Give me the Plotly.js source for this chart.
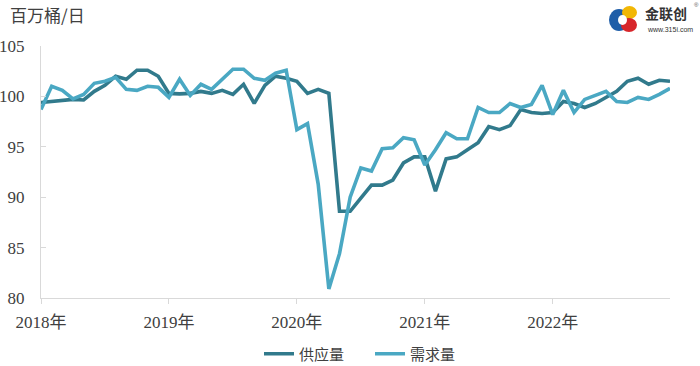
<!DOCTYPE html>
<html>
<head>
<meta charset="utf-8">
<script src="https://cdn.plot.ly/plotly-3.0.1.min.js"></script>
<style>html,body{margin:0;padding:0;background:#fff;}#chart{width:700px;height:366px;}</style>
</head>
<body>
<div id="chart"></div>
<script>
// Monthly categories Jan 2018 – Dec 2022
var years = ['2018', '2019', '2020', '2021', '2022'];
var months = [];
years.forEach(function (y) { for (var m = 1; m <= 12; m++) months.push(y + '-' + (m < 10 ? '0' + m : m)); });
var tickVals = ['2018-01', '2019-01', '2020-01', '2021-01', '2022-01'];
var tickText = ['2018年', '2019年', '2020年', '2021年', '2022年'];

// 供应量 (supply), million barrels/day
var supply = [
  99.4, 99.5, 99.6, 99.7, 99.65, 100.5, 101.1, 102.0, 101.7, 102.6, 102.6, 102.0,
  100.3, 100.25, 100.3, 100.5, 100.3, 100.6, 100.2, 101.2, 99.3, 101.1, 102.0, 101.8,
  101.5, 100.3, 100.7, 100.3, 88.6, 88.6, 89.9, 91.2, 91.2, 91.7, 93.4, 94.0,
  94.0, 90.6, 93.8, 94.0, 94.7, 95.4, 97.0, 96.7, 97.1, 98.7, 98.4, 98.3,
  98.4, 99.5, 99.3, 98.9, 99.3, 99.9, 100.5, 101.5, 101.8, 101.2, 101.6, 101.5
];
// 需求量 (demand), million barrels/day
var demand = [
  98.7, 101.0, 100.6, 99.75, 100.2, 101.3, 101.5, 101.9, 100.7, 100.6, 101.0, 100.9,
  99.9, 101.7, 100.1, 101.2, 100.7, 101.7, 102.7, 102.7, 101.8, 101.6, 102.3, 102.6,
  96.7, 97.3, 91.3, 80.9, 84.4, 90.0, 92.9, 92.6, 94.8, 94.9, 95.9, 95.7,
  93.2, 94.7, 96.4, 95.8, 95.8, 98.9, 98.4, 98.4, 99.3, 98.9, 99.2, 101.1,
  98.2, 100.6, 98.4, 99.7, 100.1, 100.5, 99.5, 99.4, 99.9, 99.7, 100.2, 100.8
];

var supplyColor = '#317A8C';
var demandColor = '#4AA8C3';

// plot area pixel geometry helpers for decorative logo
var L = 41, R = 670, T = 46, B = 298;
function px(x) { return (x - L) / (R - L); }
function py(y) { return (B - y) / (B - T); }

var serif = 'Liberation Serif, Noto Sans CJK SC, serif';
var cjk = 'Noto Sans CJK SC, sans-serif';

var traces = [
  { x: months, y: supply, type: 'scatter', mode: 'lines', name: '供应量',
    line: { color: supplyColor, width: 3.6 } },
  { x: months, y: demand, type: 'scatter', mode: 'lines', name: '需求量',
    line: { color: demandColor, width: 3.6 } }
];

var layout = {
  width: 700, height: 366,
  margin: { l: L, r: 700 - R, t: T, b: 366 - B, autoexpand: false },
  paper_bgcolor: '#ffffff', plot_bgcolor: '#ffffff',
  font: { family: serif, size: 16, color: '#404040' },
  title: { text: '百万桶/日', x: 10 / 700, xanchor: 'left', xref: 'container', y: 1 - 16 / 366, yanchor: 'middle', yref: 'container',
    font: { family: cjk, size: 17, color: '#404040' } },
  xaxis: {
    type: 'category', range: [0, 59], tickmode: 'array', tickvals: tickVals, ticktext: tickText,
    showgrid: false, zeroline: false, showline: true, linecolor: '#d9d9d9', linewidth: 1,
    ticks: 'outside', ticklen: 5, tickcolor: '#d9d9d9', tickangle: 0, ticklabelstandoff: 4, automargin: false,
    tickfont: { family: serif, size: 17, color: '#404040' }
  },
  yaxis: {
    range: [80, 105], tickvals: [80, 85, 90, 95, 100, 105],
    showgrid: false, zeroline: false, showline: true, linecolor: '#d9d9d9', linewidth: 1,
    ticks: 'inside', ticklen: 5, tickcolor: '#d9d9d9', ticklabelstandoff: 12, automargin: false,
    tickfont: { family: serif, size: 17, color: '#404040' }
  },
  showlegend: true,
  legend: { orientation: 'h', x: px(370), xanchor: 'center', y: py(354), yanchor: 'middle',
    font: { family: cjk, size: 15, color: '#404040' },
    entrywidth: 66, entrywidthmode: 'pixels', itemwidth: 30, bgcolor: 'rgba(0,0,0,0)' },
  shapes: [
    { type: 'circle', xref: 'paper', yref: 'paper', x0: px(609), x1: px(629), y0: py(31), y1: py(9), fillcolor: '#1F5EA8', line: { width: 0 }, layer: 'above' },
    { type: 'circle', xref: 'paper', yref: 'paper', x0: px(622), x1: px(637), y0: py(19), y1: py(6), fillcolor: '#F2B705', line: { width: 0 }, layer: 'above' },
    { type: 'circle', xref: 'paper', yref: 'paper', x0: px(621), x1: px(637), y0: py(32), y1: py(18), fillcolor: '#D7262B', line: { width: 0 }, layer: 'above' },
    { type: 'circle', xref: 'paper', yref: 'paper', x0: px(618), x1: px(627), y0: py(25), y1: py(15), fillcolor: '#ffffff', line: { width: 0 }, layer: 'above' }
  ],
  annotations: [
    { xref: 'paper', yref: 'paper', x: px(643), y: py(13), xanchor: 'left', yanchor: 'middle', showarrow: false,
      text: '<b>金联创</b>', font: { family: cjk, size: 14, color: '#333333' } },
    { xref: 'paper', yref: 'paper', x: px(645), y: py(29), xanchor: 'left', yanchor: 'middle', showarrow: false,
      text: 'www.315i.com', font: { family: 'Liberation Sans, sans-serif', size: 7, color: '#333333' } },
    { xref: 'paper', yref: 'paper', x: px(692), y: py(5), xanchor: 'left', yanchor: 'middle', showarrow: false,
      text: '®', font: { family: 'Liberation Sans, sans-serif', size: 6, color: '#555555' } }
  ]
};

Plotly.newPlot('chart', traces, layout, { displayModeBar: false, staticPlot: true });
</script>
</body>
</html>
